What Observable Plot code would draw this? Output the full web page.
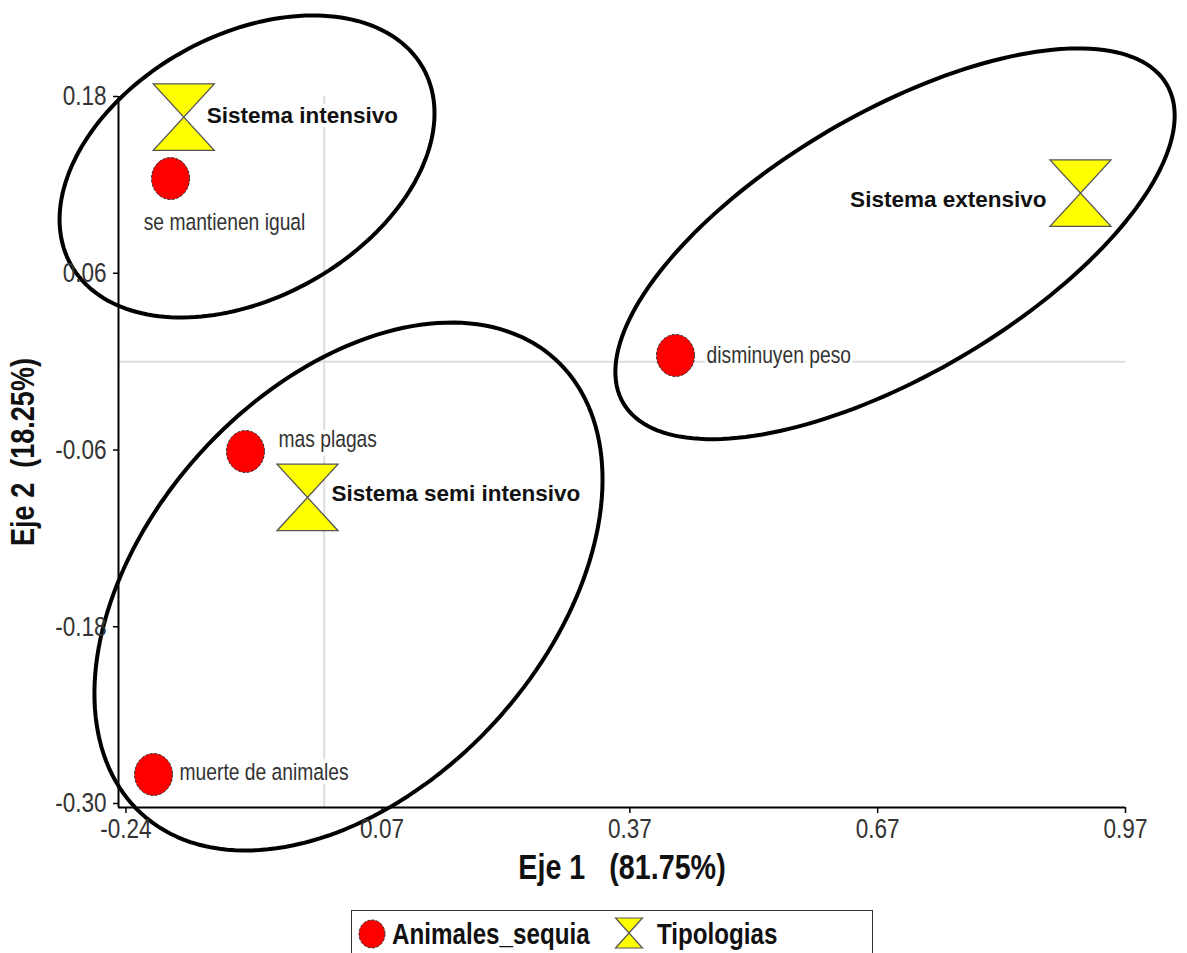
<!DOCTYPE html>
<html>
<head>
<meta charset="utf-8">
<script src="https://cdn.jsdelivr.net/npm/d3@7"></script>
<script src="https://cdn.jsdelivr.net/npm/@observablehq/plot@0.6"></script>
<style>
  body { margin: 0; background: #fff; }
  #wrap { position: relative; width: 1187px; height: 953px; overflow: hidden; background: #fff; }
  #chart svg { display: block; }
  #legend { position: absolute; left: 351px; top: 910px; width: 522px; height: 60px; box-sizing: border-box; border: 1.5px solid #333; background: #fff; }
</style>
</head>
<body>
<div id="wrap">
  <div id="chart"></div>
  <div id="legend"></div>
</div>
<script>
// ---------- data ----------
const xTicks = [-0.24, 0.07, 0.37, 0.67, 0.97];
const yTicks = [0.18, 0.06, -0.06, -0.18, -0.30];

const animalLabels = ["se mantienen igual", "disminuyen peso", "mas plagas", "muerte de animales"];
const animalX = [-0.186, 0.4253, -0.0953, -0.2066];
const animalY = [0.1243, 0.0042, -0.061, -0.2803];

const tipoLabels = ["Sistema intensivo", "Sistema extensivo", "Sistema semi intensivo"];
const tipoX = [-0.170, 0.9155, -0.0202];
const tipoY = [0.166, 0.1144, -0.0922];

const groupNames = ["intensivo", "extensivo", "semi intensivo"];
const groupCenterX = [-0.0934, 0.691, 0.0294];
const groupCenterY = [0.1325, 0.0800, -0.1527];

const xTitle = "Eje 1\u00a0\u00a0\u00a0(81.75%)";
const yTitle = "Eje 2\u00a0\u00a0(18.25%)";
const legendNames = ["Animales_sequia", "Tipologias"];

// ---------- layout ----------
const W = 1187, H = 893;
const mL = 118, mR = 62, mT = 96, mB = 86;
const xDom = [-0.249, 0.97], yDom = [-0.3027, 0.18];
const kx = (W - mL - mR) / (xDom[1] - xDom[0]);
const ky = (H - mT - mB) / (yDom[1] - yDom[0]);

// ellipse shape (pixels, degrees)
const ellipseShape = [
  {a: 201.7, b: 131.4, rot: -29.1},
  {a: 315, b: 131, rot: -30.4},
  {a: 307.3, b: 199.5, rot: -47.7}
];

const FONT = "'Liberation Sans', Arial, sans-serif";
const NARROW_SCALE = 0.82;   // emulates Arial Narrow

const animals = animalLabels.map((name, i) => ({name, x: animalX[i], y: animalY[i]}));
const tipos = tipoLabels.map((name, i) => ({name, x: tipoX[i], y: tipoY[i]}));

const ellipsePts = [];
groupNames.forEach((g, i) => {
  const {a, b, rot} = ellipseShape[i];
  const th = rot * Math.PI / 180;
  for (let k = 0; k < 180; k++) {
    const t = k / 180 * 2 * Math.PI;
    const dx = a * Math.cos(th) * Math.cos(t) - b * Math.sin(th) * Math.sin(t);
    const dy = a * Math.sin(th) * Math.cos(t) + b * Math.cos(th) * Math.sin(t);
    ellipsePts.push({g, x: groupCenterX[i] + dx / kx, y: groupCenterY[i] - dy / ky});
  }
});

// symbols
const hourglass = {
  draw(ctx, size) {
    const r = Math.sqrt(size / Math.PI);
    const w = r, h = r * 1.09;
    ctx.moveTo(-w, -h); ctx.lineTo(w, -h); ctx.lineTo(-w, h); ctx.lineTo(w, h); ctx.closePath();
  }
};
const oval = {
  draw(ctx, size) {
    const r = Math.sqrt(size / Math.PI);
    const rx = r * 0.95, ry = r * 1.05, k = 0.5523;
    ctx.moveTo(rx, 0);
    ctx.bezierCurveTo(rx, ry * k, rx * k, ry, 0, ry);
    ctx.bezierCurveTo(-rx * k, ry, -rx, ry * k, -rx, 0);
    ctx.bezierCurveTo(-rx, -ry * k, -rx * k, -ry, 0, -ry);
    ctx.bezierCurveTo(rx * k, -ry, rx, -ry * k, rx, 0);
    ctx.closePath();
  }
};

const labelLayout = {
  "se mantienen igual": {dx: 54, dy: 44, anchor: "middle"},
  "disminuyen peso": {dx: 31, dy: 0, anchor: "start"},
  "mas plagas": {dx: 33, dy: -12, anchor: "start"},
  "muerte de animales": {dx: 26, dy: -2, anchor: "start"},
  "Sistema intensivo": {dx: 23, dy: -1, anchor: "start"},
  "Sistema extensivo": {dx: -34, dy: 7, anchor: "end"},
  "Sistema semi intensivo": {dx: 24, dy: -4, anchor: "start"}
};

const animalText = animals.map(d => {
  const L = labelLayout[d.name];
  return Plot.text([d], {x: "x", y: "y", text: "name", dx: L.dx, dy: L.dy, textAnchor: L.anchor,
    fontFamily: FONT, fontSize: 23.5, fill: "#333", stroke: "white", strokeWidth: 8});
});
const tipoText = tipos.map(d => {
  const L = labelLayout[d.name];
  return Plot.text([d], {x: "x", y: "y", text: "name", dx: L.dx, dy: L.dy, textAnchor: L.anchor,
    fontFamily: FONT, fontWeight: "bold", fontSize: 22.5, fill: "#111", stroke: "white", strokeWidth: 8});
});

const chart = Plot.plot({
  width: W, height: H,
  marginLeft: mL, marginRight: mR, marginTop: mT, marginBottom: mB,
  style: {fontFamily: FONT, background: "white"},
  x: {domain: xDom},
  y: {domain: yDom},
  marks: [
    Plot.ruleX([0], {y1: yDom[0], y2: yDom[1], stroke: "#dddddd", strokeWidth: 2}),
    Plot.ruleY([0], {x1: xDom[0], x2: xDom[1], stroke: "#dddddd", strokeWidth: 2}),
    ...animalText,
    ...tipoText,
    Plot.dot(animals, {x: "x", y: "y", r: 20, symbol: oval, fill: "#ff0000", stroke: "#333", strokeWidth: 1, strokeDasharray: "3,1.5"}),
    Plot.dot(tipos, {x: "x", y: "y", r: 30.5, symbol: hourglass, fill: "#ffff00", stroke: "#555", strokeWidth: 1.3}),
    Plot.line(ellipsePts, {x: "x", y: "y", z: "g", stroke: "black", strokeWidth: 4, curve: "linear-closed"}),
    Plot.ruleX([xDom[0]], {y1: yDom[0], y2: yTicks[0], stroke: "black", strokeWidth: 2}),
    Plot.ruleY([yDom[0]], {x1: xDom[0], x2: xDom[1], stroke: "black", strokeWidth: 2}),
    Plot.axisX({ticks: xTicks, tickFormat: d => d.toFixed(2), tickSize: 6, tickPadding: 5, label: null,
      fontSize: 27.5, fontFamily: FONT, fill: "#333", stroke: "black", strokeWidth: 1.5}),
    Plot.axisY({ticks: yTicks, tickFormat: d => d.toFixed(2), tickSize: 5, tickPadding: 7, label: null,
      fontSize: 27.5, fontFamily: FONT, fill: "#333", stroke: "black", strokeWidth: 1.5}),
    Plot.text([xTitle], {frameAnchor: "bottom", textAnchor: "middle", lineAnchor: "middle", dy: 60,
      fontFamily: FONT, fontWeight: "bold", fontSize: 35, fill: "#111"}),
    Plot.text([yTitle], {frameAnchor: "left", textAnchor: "middle", lineAnchor: "middle", dx: -95, rotate: -90,
      fontFamily: FONT, fontWeight: "bold", fontSize: 33, fill: "#111"})
  ]
});
document.getElementById("chart").appendChild(chart);

// ---------- legend ----------
const lg = d3.select("#legend").append("svg").attr("width", 522).attr("height", 60);
lg.append("ellipse").attr("cx", 20).attr("cy", 23).attr("rx", 13).attr("ry", 14)
  .attr("fill", "#ff0000").attr("stroke", "#333").attr("stroke-dasharray", "3,1.5");
lg.append("text").attr("transform", "translate(40,33)").text(legendNames[0])
  .attr("font-family", FONT).attr("font-weight", "bold").attr("font-size", 29.5).attr("fill", "#111");
lg.append("path").attr("transform", "translate(277,22)")
  .attr("d", "M-13.5,-15L13.5,-15L-13.5,15L13.5,15Z")
  .attr("fill", "#ffff00").attr("stroke", "#555").attr("stroke-width", 1.2);
lg.append("text").attr("transform", "translate(305,33)").text(legendNames[1])
  .attr("font-family", FONT).attr("font-weight", "bold").attr("font-size", 29.5).attr("fill", "#111");

// narrow-font emulation: horizontal compression about each text's own anchor
function narrow(root, skip) {
  root.querySelectorAll("text").forEach(el => {
    if (skip.includes(el.textContent)) return;
    const t = el.getAttribute("transform") || "";
    el.setAttribute("transform", `${t} scale(${NARROW_SCALE},1)`);
  });
}
narrow(chart, tipoLabels);
narrow(document.querySelector("#legend svg"), []);
</script>
</body>
</html>
